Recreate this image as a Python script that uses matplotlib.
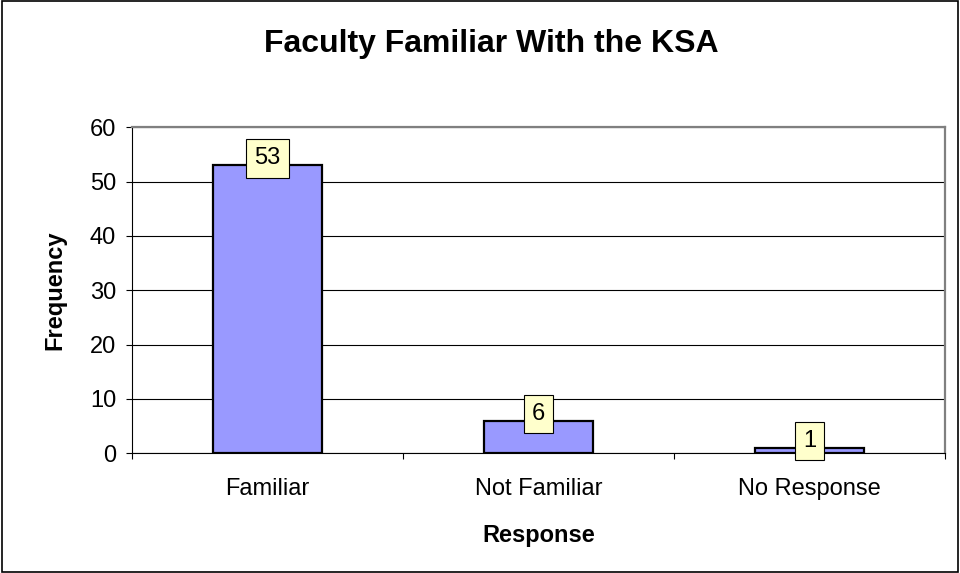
import matplotlib.pyplot as plt
import numpy as np

plt.rcParams['font.family'] = ['Liberation Sans', 'DejaVu Sans']

categories = ["Familiar", "Not Familiar", "No Response"]
frequency = [53, 6, 1]

fig = plt.figure(figsize=(9.6, 5.73), dpi=100)
ax = fig.add_axes([0.1375, 0.209, 0.847, 0.569])

x = np.arange(len(categories))
rects = ax.bar(x, frequency, 0.4, color='#9999FF', edgecolor='black', linewidth=1.6, zorder=3)
ax.bar_label(rects, padding=-3, fontsize=17,
             bbox=dict(boxstyle='square,pad=0.35', fc='#FFFFCC', ec='black', lw=0.8), zorder=4)

ax.set_xlim(-0.5, 2.5)
ax.set_ylim(0, 60)
ax.set_yticks(range(0, 61, 10))
ax.set_xticks([-0.5, 0.5, 1.5, 2.5])
ax.set_xticklabels([])
ax.set_xticks(x, categories, minor=True)
ax.tick_params(axis='x', which='minor', length=0, labelsize=17, pad=18)
ax.tick_params(axis='x', which='major', length=4.5, direction='out', color='black')
ax.tick_params(axis='y', labelsize=17, length=4.5, pad=7, direction='out')
ax.grid(axis='y', color='black', linewidth=0.8, zorder=0)

for side in ['top', 'right']:
    ax.spines[side].set_color('#808080')
    ax.spines[side].set_linewidth(1.6)
for side in ['left', 'bottom']:
    ax.spines[side].set_color('black')

ax.set_ylabel('Frequency', fontsize=17, fontweight='bold')
ax.set_xlabel('Response', fontsize=17, fontweight='bold')
ax.xaxis.set_label_coords(0.5, -0.252)
ax.xaxis.label.set_va('center')
ax.yaxis.set_label_coords(-0.095, 0.5)
ax.yaxis.label.set_va('center')
fig.suptitle('Faculty Familiar With the KSA', fontsize=23, fontweight='bold',
             x=0.512, y=0.923, va='center')

fig.patches.append(plt.Rectangle((0.002, 0.002), 0.996, 0.996, transform=fig.transFigure,
                                 fill=False, ec='black', lw=1.2))

fig.savefig('out.png', dpi=100)
